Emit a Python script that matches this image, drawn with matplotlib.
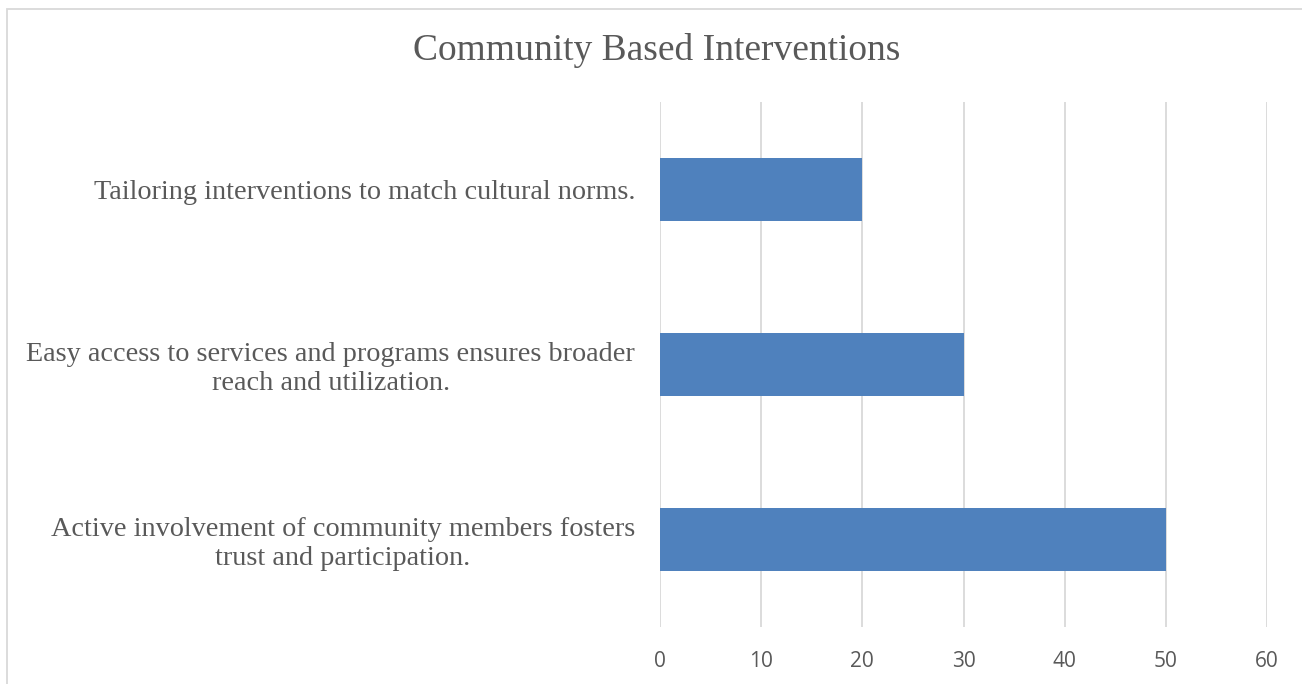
import matplotlib.pyplot as plt
from matplotlib.patches import Rectangle

categories = [
    "Active involvement of community members fosters\ntrust and participation.",
    "Easy access to services and programs ensures broader\nreach and utilization.",
    "Tailoring interventions to match cultural norms.",
]
values = [50, 30, 20]
x_ticks = [0, 10, 20, 30, 40, 50, 60]

BAR_COLOR = "#4F81BD"
TEXT_COLOR = "#595959"
GRID_COLOR = "#D9D9D9"

fig = plt.figure(figsize=(13.02, 6.84), dpi=100)
ax = fig.add_axes([660 / 1302, 1 - 627 / 684, (1267 - 660) / 1302, (627 - 102) / 684])

pos = list(range(len(categories)))
ax.barh(pos, values, height=0.355, color=BAR_COLOR, zorder=3)

ax.set_xlim(0, 60)
ax.set_ylim(-0.5, len(categories) - 0.5)
ax.set_xticks(x_ticks)
ax.set_xticklabels([str(t) for t in x_ticks], fontfamily="Open Sans", fontsize=15,
                   color=TEXT_COLOR)
ax.set_yticks(pos)
ax.set_yticklabels(categories, fontfamily="Liberation Serif", fontsize=20.3,
                   color=TEXT_COLOR, multialignment="center", linespacing=1.2)
ax.tick_params(axis="both", length=0)
ax.tick_params(axis="x", pad=17)
ax.tick_params(axis="y", pad=18)
ax.grid(axis="x", color=GRID_COLOR, linewidth=1.3, zorder=0)
for side in ax.spines.values():
    side.set_visible(False)

# chart frame, partly cut off at the right and bottom
fig.patches.append(Rectangle((7 / 1302, -0.05), 1.2, 1 - 9 / 684 + 0.05,
                             transform=fig.transFigure, fill=False,
                             edgecolor=GRID_COLOR, linewidth=1.3))

fig.text(657 / 1302, 1 - 50 / 684, "Community Based Interventions",
         fontfamily="Liberation Serif", fontsize=27, color=TEXT_COLOR,
         ha="center", va="center")

fig.savefig("out.png", dpi=100)
